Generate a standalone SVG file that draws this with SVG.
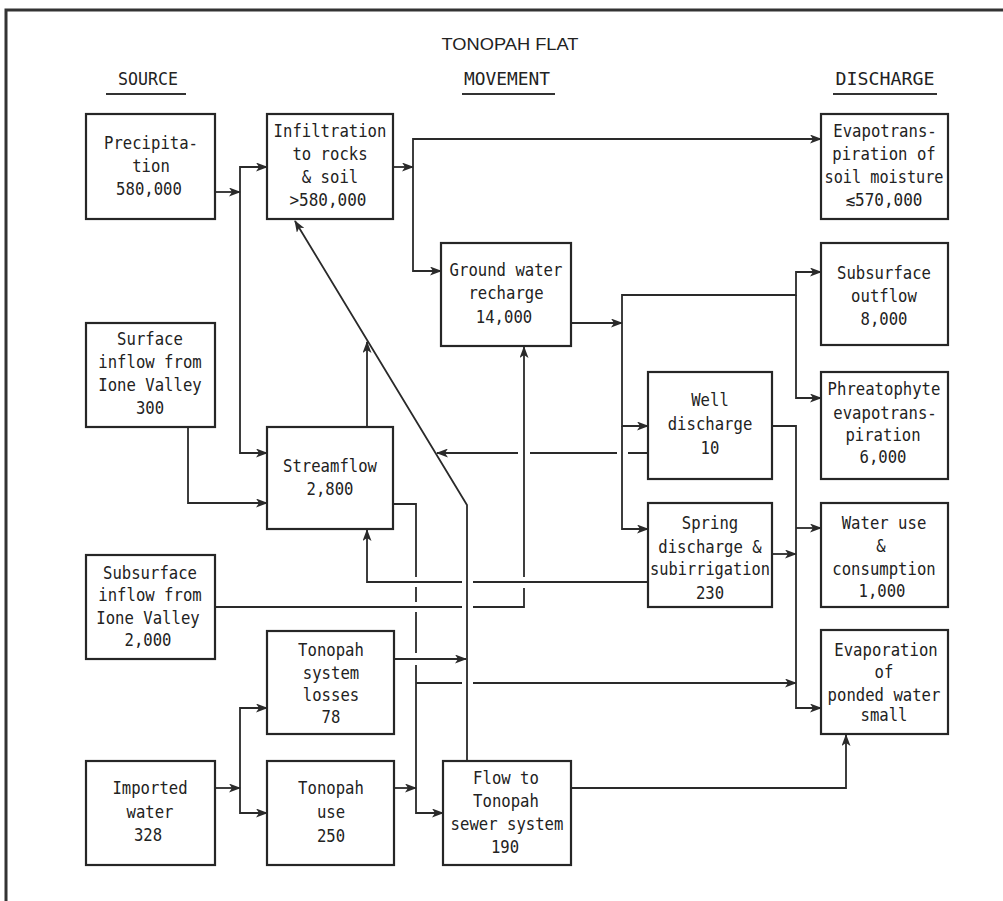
<svg xmlns="http://www.w3.org/2000/svg" width="1003" height="901" viewBox="0 0 1003 901">
<style>
.box{fill:#fff;stroke:#262626;stroke-width:2.2}
.t{font-family:"DejaVu Sans Mono","Liberation Mono",monospace;font-size:17px;fill:#222;text-anchor:middle}
.h{font-family:"DejaVu Sans Mono","Liberation Mono",monospace;font-size:17px;fill:#222;text-anchor:middle}
.ti{font-family:"Liberation Sans",Arial,sans-serif;font-size:17px;fill:#222;text-anchor:middle}
.ln{fill:none;stroke:#2a2a2a;stroke-width:1.8}
.ar{fill:none;stroke:#2a2a2a;stroke-width:1.8;marker-end:url(#ah)}
</style>
<defs>
<marker id="ah" markerUnits="userSpaceOnUse" markerWidth="12" markerHeight="9" refX="11" refY="4.5" orient="auto">
<path d="M0,0 L12,4.5 L0,9 L3,4.5 z" fill="#2a2a2a"/>
</marker>
</defs>
<rect width="1003" height="901" fill="#fff"/>
<g id="frame">
<path d="M6,901 V10 H1003" fill="none" stroke="#333" stroke-width="3"/>
</g>
<g id="headers">
<text class="ti" x="510" y="50" textLength="137" lengthAdjust="spacingAndGlyphs">TONOPAH FLAT</text>
<text class="h" x="148" y="85" textLength="60" lengthAdjust="spacingAndGlyphs">SOURCE</text>
<text class="h" x="507" y="85" textLength="86" lengthAdjust="spacingAndGlyphs">MOVEMENT</text>
<text class="h" x="885" y="85" textLength="99" lengthAdjust="spacingAndGlyphs">DISCHARGE</text>
<path d="M106,94 H186 M462,94 H555 M833,94 H937" stroke="#333" stroke-width="2"/>
</g>
<g id="connectors">
<path class="ar" d="M215,192 H240"/>
<path class="ar" d="M240,192 V167 H267"/>
<path class="ar" d="M240,192 V453 H267"/>
<path class="ar" d="M393,167 H413"/>
<path class="ar" d="M413,167 V139 H821"/>
<path class="ar" d="M413,167 V271 H441"/>
<path class="ar" d="M571,323 H622"/>
<path class="ar" d="M622,323 V295 H796 V272 H821"/>
<path class="ar" d="M796,295 V398 H821"/>
<path class="ar" d="M622,323 V426 H648"/>
<path class="ar" d="M622,426 V529 H648"/>
<path class="ar" d="M772,426 H796 V708 H821"/>
<path class="ar" d="M796,528 H821"/>
<path class="ar" d="M772,554 H796"/>
<path class="ln" d="M648,453 H628 M617,453 H530"/>
<path class="ar" d="M518,453 H437"/>
<path class="ar" d="M188,427 V503 H267"/>
<path class="ar" d="M367,427 V342"/>
<path class="ln" d="M648,582 H473"/>
<path class="ar" d="M462,582 H367 V530"/>
<path class="ln" d="M215,607 H462 M473,607 H524 V588"/>
<path class="ar" d="M524,577 V347"/>
<path class="ar" d="M467,761 V505 L295,221"/>
<path class="ln" d="M393,504 H416 V577 M416,587 V602 M416,612 V653 M416,665 V683"/>
<path class="ar" d="M416,683 V813 H443"/>
<path class="ln" d="M416,683 H462"/>
<path class="ar" d="M473,683 H796"/>
<path class="ar" d="M394,659 H466"/>
<path class="ar" d="M215,788 H240"/>
<path class="ar" d="M240,788 V708 H267"/>
<path class="ar" d="M240,788 V813 H267"/>
<path class="ar" d="M394,788 H416"/>
<path class="ar" d="M571,788 H846 V735"/>
</g>
<g id="precipitation">
<rect class="box" x="86" y="114" width="129" height="105"/>
<text class="t" x="151" y="149" textLength="94" lengthAdjust="spacingAndGlyphs">Precipita-</text>
<text class="t" x="151" y="172" textLength="37.6" lengthAdjust="spacingAndGlyphs">tion</text>
<text class="t" x="149" y="195" textLength="65.8" lengthAdjust="spacingAndGlyphs">580,000</text>
</g>
<g id="infiltration">
<rect class="box" x="267" y="114" width="126" height="105"/>
<text class="t" x="330" y="137" textLength="112.8" lengthAdjust="spacingAndGlyphs">Infiltration</text>
<text class="t" x="330" y="160" textLength="75.2" lengthAdjust="spacingAndGlyphs">to rocks</text>
<text class="t" x="330" y="183" textLength="56.4" lengthAdjust="spacingAndGlyphs">&amp; soil</text>
<text class="t" x="328" y="206" textLength="77" lengthAdjust="spacingAndGlyphs">&gt;580,000</text>
</g>
<g id="evapotranspiration">
<rect class="box" x="821" y="114" width="127" height="105"/>
<text class="t" x="885" y="137" textLength="103.4" lengthAdjust="spacingAndGlyphs">Evapotrans-</text>
<text class="t" x="884" y="160" textLength="103.4" lengthAdjust="spacingAndGlyphs">piration of</text>
<text class="t" x="884" y="183" textLength="119" lengthAdjust="spacingAndGlyphs">soil moisture</text>
<text class="t" x="884" y="206" textLength="77" lengthAdjust="spacingAndGlyphs">≲570,000</text>
</g>
<g id="groundwater">
<rect class="box" x="441" y="243" width="130" height="103"/>
<text class="t" x="506" y="276" textLength="112.8" lengthAdjust="spacingAndGlyphs">Ground water</text>
<text class="t" x="506" y="299" textLength="75.2" lengthAdjust="spacingAndGlyphs">recharge</text>
<text class="t" x="504" y="323" textLength="56.4" lengthAdjust="spacingAndGlyphs">14,000</text>
</g>
<g id="subsurfaceoutflow">
<rect class="box" x="821" y="243" width="127" height="102"/>
<text class="t" x="884" y="279" textLength="94" lengthAdjust="spacingAndGlyphs">Subsurface</text>
<text class="t" x="884" y="302" textLength="65.8" lengthAdjust="spacingAndGlyphs">outflow</text>
<text class="t" x="884" y="325" textLength="47" lengthAdjust="spacingAndGlyphs">8,000</text>
</g>
<g id="surfaceinflow">
<rect class="box" x="86" y="323" width="129" height="104"/>
<text class="t" x="150" y="345" textLength="65.8" lengthAdjust="spacingAndGlyphs">Surface</text>
<text class="t" x="150" y="368" textLength="103.4" lengthAdjust="spacingAndGlyphs">inflow from</text>
<text class="t" x="150" y="391" textLength="103.4" lengthAdjust="spacingAndGlyphs">Ione Valley</text>
<text class="t" x="150" y="414" textLength="28.2" lengthAdjust="spacingAndGlyphs">300</text>
</g>
<g id="streamflow">
<rect class="box" x="267" y="427" width="126" height="102"/>
<text class="t" x="330" y="472" textLength="94" lengthAdjust="spacingAndGlyphs">Streamflow</text>
<text class="t" x="330" y="495" textLength="47" lengthAdjust="spacingAndGlyphs">2,800</text>
</g>
<g id="welldischarge">
<rect class="box" x="648" y="372" width="124" height="107"/>
<text class="t" x="710" y="406" textLength="37.6" lengthAdjust="spacingAndGlyphs">Well</text>
<text class="t" x="710" y="430" textLength="84.6" lengthAdjust="spacingAndGlyphs">discharge</text>
<text class="t" x="710" y="454" textLength="18.8" lengthAdjust="spacingAndGlyphs">10</text>
</g>
<g id="phreatophyte">
<rect class="box" x="821" y="372" width="127" height="107"/>
<text class="t" x="884" y="395" textLength="112.8" lengthAdjust="spacingAndGlyphs">Phreatophyte</text>
<text class="t" x="885" y="419" textLength="103.4" lengthAdjust="spacingAndGlyphs">evapotrans-</text>
<text class="t" x="883" y="441" textLength="75.2" lengthAdjust="spacingAndGlyphs">piration</text>
<text class="t" x="883" y="463" textLength="47" lengthAdjust="spacingAndGlyphs">6,000</text>
</g>
<g id="spring">
<rect class="box" x="648" y="503" width="124" height="104"/>
<text class="t" x="710" y="529" textLength="56.4" lengthAdjust="spacingAndGlyphs">Spring</text>
<text class="t" x="710" y="553" textLength="103.4" lengthAdjust="spacingAndGlyphs">discharge &amp;</text>
<text class="t" x="710" y="575" textLength="120" lengthAdjust="spacingAndGlyphs">subirrigation</text>
<text class="t" x="710" y="599" textLength="28.2" lengthAdjust="spacingAndGlyphs">230</text>
</g>
<g id="wateruse">
<rect class="box" x="821" y="503" width="127" height="104"/>
<text class="t" x="884" y="529" textLength="84.6" lengthAdjust="spacingAndGlyphs">Water use</text>
<text class="t" x="881" y="552" textLength="9.4" lengthAdjust="spacingAndGlyphs">&amp;</text>
<text class="t" x="884" y="575" textLength="103.4" lengthAdjust="spacingAndGlyphs">consumption</text>
<text class="t" x="882" y="597" textLength="47" lengthAdjust="spacingAndGlyphs">1,000</text>
</g>
<g id="evaporation">
<rect class="box" x="821" y="630" width="127" height="104"/>
<text class="t" x="886" y="656" textLength="103.4" lengthAdjust="spacingAndGlyphs">Evaporation</text>
<text class="t" x="884" y="678" textLength="18.8" lengthAdjust="spacingAndGlyphs">of</text>
<text class="t" x="884" y="701" textLength="112.8" lengthAdjust="spacingAndGlyphs">ponded water</text>
<text class="t" x="884" y="721" textLength="47" lengthAdjust="spacingAndGlyphs">small</text>
</g>
<g id="subsurfaceinflow">
<rect class="box" x="86" y="555" width="129" height="104"/>
<text class="t" x="150" y="579" textLength="94" lengthAdjust="spacingAndGlyphs">Subsurface</text>
<text class="t" x="150" y="601" textLength="103.4" lengthAdjust="spacingAndGlyphs">inflow from</text>
<text class="t" x="148" y="624" textLength="103.4" lengthAdjust="spacingAndGlyphs">Ione Valley</text>
<text class="t" x="148" y="646" textLength="47" lengthAdjust="spacingAndGlyphs">2,000</text>
</g>
<g id="systemlosses">
<rect class="box" x="267" y="631" width="127" height="103"/>
<text class="t" x="331" y="656" textLength="65.8" lengthAdjust="spacingAndGlyphs">Tonopah</text>
<text class="t" x="331" y="679" textLength="56.4" lengthAdjust="spacingAndGlyphs">system</text>
<text class="t" x="331" y="701" textLength="56.4" lengthAdjust="spacingAndGlyphs">losses</text>
<text class="t" x="331" y="723" textLength="18.8" lengthAdjust="spacingAndGlyphs">78</text>
</g>
<g id="importedwater">
<rect class="box" x="86" y="761" width="129" height="104"/>
<text class="t" x="150" y="794" textLength="75.2" lengthAdjust="spacingAndGlyphs">Imported</text>
<text class="t" x="150" y="818" textLength="47" lengthAdjust="spacingAndGlyphs">water</text>
<text class="t" x="148" y="841" textLength="28.2" lengthAdjust="spacingAndGlyphs">328</text>
</g>
<g id="tonopahuse">
<rect class="box" x="267" y="761" width="127" height="104"/>
<text class="t" x="331" y="794" textLength="65.8" lengthAdjust="spacingAndGlyphs">Tonopah</text>
<text class="t" x="331" y="818" textLength="28.2" lengthAdjust="spacingAndGlyphs">use</text>
<text class="t" x="331" y="842" textLength="28.2" lengthAdjust="spacingAndGlyphs">250</text>
</g>
<g id="sewer">
<rect class="box" x="443" y="761" width="128" height="104"/>
<text class="t" x="506" y="784" textLength="65.8" lengthAdjust="spacingAndGlyphs">Flow to</text>
<text class="t" x="506" y="807" textLength="65.8" lengthAdjust="spacingAndGlyphs">Tonopah</text>
<text class="t" x="507" y="830" textLength="112.8" lengthAdjust="spacingAndGlyphs">sewer system</text>
<text class="t" x="505" y="853" textLength="28.2" lengthAdjust="spacingAndGlyphs">190</text>
</g>
</svg>
